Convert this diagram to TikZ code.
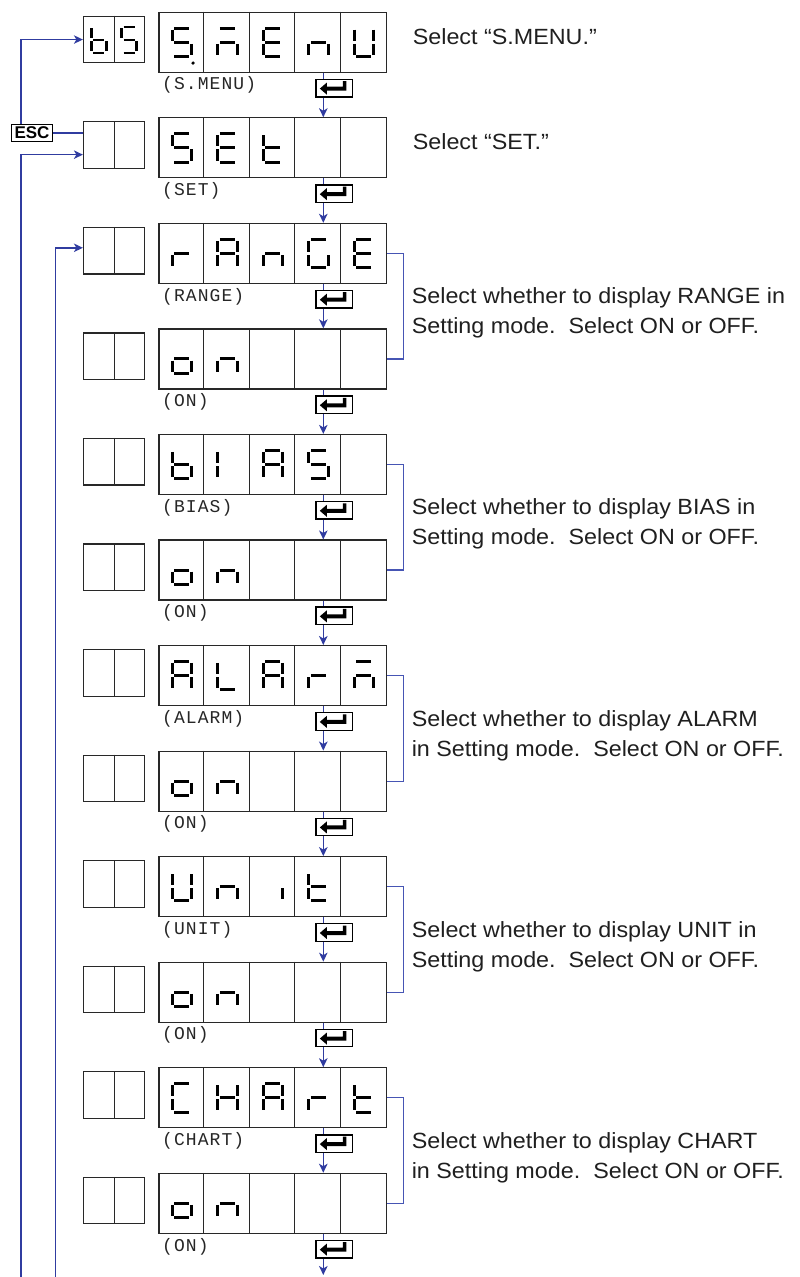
\documentclass[tikz,border=0pt]{standalone}
\usepackage{fontspec}
\setmainfont{Liberation Sans}
\newfontfamily\descfont[FakeStretch=1.06]{Liberation Sans}
\newfontfamily\lblfont[LetterSpace=6]{Liberation Mono}
\usetikzlibrary{arrows.meta,calc}
\definecolor{flowblue}{RGB}{48,60,160}
\definecolor{brkblue}{RGB}{70,85,180}
\definecolor{boxgray}{RGB}{40,40,40}
\tikzset{
 bigbox/.style={draw=boxgray,line width=1.2pt,minimum width=227.5pt,minimum height=60pt,inner sep=0pt},
 smallbox/.style={draw=boxgray,line width=1.2pt,minimum width=61pt,minimum height=46.5pt,inner sep=0pt},
 divider/.style={draw=boxgray,line width=1pt},
 enterkey/.style={draw=black,line width=1.3pt,fill=white,minimum width=36.7pt,minimum height=17.5pt,inner sep=0pt},
 flowline/.style={draw=flowblue,line width=1.5pt},
 flowarrow/.style={flowline,-{Stealth[length=9pt,width=8.5pt,inset=2.5pt]}},
 brk/.style={draw=brkblue,line width=1.2pt},
 lbl/.style={font=\lblfont\fontsize{18}{18}\selectfont,text=black!85,inner sep=0pt,anchor=west},
 desc/.style={font=\descfont\fontsize{22}{30}\selectfont,text=black!88,inner sep=0pt,align=left},
 esckey/.style={draw=black,line width=1.5pt,fill=white,minimum width=40.6pt,minimum height=17.4pt,inner sep=0pt,font=\bfseries\fontsize{17}{17}\selectfont},
}
\newcommand\qsega{\draw[line width=\ql pt] (\qx-\qw/2+\qg,\qy-\qh/2) -- (\qx+\qw/2-\qg,\qy-\qh/2);}
\newcommand\qsegb{\draw[line width=\ql pt] (\qx+\qw/2,\qy-\qh/2+\qv) -- (\qx+\qw/2,\qy-\qv);}
\newcommand\qsegc{\draw[line width=\ql pt] (\qx+\qw/2,\qy+\qv) -- (\qx+\qw/2,\qy+\qh/2-\qv);}
\newcommand\qsegd{\draw[line width=\ql pt] (\qx-\qw/2+\qg,\qy+\qh/2) -- (\qx+\qw/2-\qg,\qy+\qh/2);}
\newcommand\qsege{\draw[line width=\ql pt] (\qx-\qw/2,\qy+\qv) -- (\qx-\qw/2,\qy+\qh/2-\qv);}
\newcommand\qsegf{\draw[line width=\ql pt] (\qx-\qw/2,\qy-\qh/2+\qv) -- (\qx-\qw/2,\qy-\qv);}
\newcommand\qsegg{\draw[line width=\ql pt] (\qx-\qw/2+\qg,\qy) -- (\qx+\qw/2-\qg,\qy);}
\newcommand\qsegp{\fill (\qx+\qw/2+1.5,\qy+\qh/2+6.5) circle (1.8pt);}
\newcommand\drawdigit[6]{%
 \pgfmathsetmacro\qx{#1}\pgfmathsetmacro\qy{#2}\pgfmathsetmacro\qw{#3}%
 \pgfmathsetmacro\qh{#4}\pgfmathsetmacro\ql{#5}%
 \pgfmathsetmacro\qg{0.12*\qw}\pgfmathsetmacro\qv{1.6}%
 \foreach \s in {#6}{\csname qseg\s\endcsname}}
\newcommand\bd[2]{\drawdigit{159+45.5*(#1-0.5)}{\qT+30}{19.5}{28.5}{3}{#2}}
\newcommand\sd[2]{\drawdigit{83.5+30.5*(#1-0.5)}{\qT+27.5}{15}{26}{2.6}{#2}}
\newcommand\drow[2]{%
 \pgfmathsetmacro\qT{12.3+105.55*#1}%
 \node[bigbox] (r#1) at (272.75,\qT+30) {};
 \node[smallbox] (s#1) at (114,\qT+27.25) {};
 \foreach \k in {1,2,3,4}{\draw[divider] ($(r#1.north west)+(45.5*\k,0)$) -- ($(r#1.south west)+(45.5*\k,0)$);}
 \draw[divider] (s#1.north) -- (s#1.south);
 \node[lbl] (l#1) at (162,\qT+73) {#2};
 \node[enterkey] (k#1) at (334.3,\qT+75.8) {};
 \fill[shift={(k#1.center)}] (-14.5,0.5) -- (-7.5,-5.5) -- (-7.5,-1.5) -- (8.5,-1.5) -- (8.5,-7) -- (12,-7) -- (12,2.5) -- (-7.5,2.5) -- (-7.5,6.5) -- cycle;
}
\newcommand\onrow[1]{\drow{#1}{(ON)}\bd{1}{g,c,d,e}\bd{2}{g,e,c}}
\begin{document}
\begin{tikzpicture}[x=1pt,y=-1pt]
\useasboundingbox (0,0) rectangle (800,1277);
% rows
\drow{0}{(S.MENU)}
\sd{1}{f,e,g,c,d}\sd{2}{a,f,g,c,d}
\bd{1}{a,f,g,c,d,p}\bd{2}{a,g,e,c}\bd{3}{a,f,g,e,d}\bd{4}{g,e,c}\bd{5}{f,b,e,c,d}
\drow{1}{(SET)}
\bd{1}{a,f,g,c,d}\bd{2}{a,f,g,e,d}\bd{3}{f,e,g,d}
\drow{2}{(RANGE)}
\bd{1}{e,g}\bd{2}{a,b,c,e,f,g}\bd{3}{g,e,c}\bd{4}{a,f,e,d,c}\bd{5}{a,f,g,e,d}
\onrow{3}
\drow{4}{(BIAS)}
\bd{1}{f,e,g,c,d}\bd{2}{f,e}\bd{3}{a,b,c,e,f,g}\bd{4}{a,f,g,c,d}
\onrow{5}
\drow{6}{(ALARM)}
\bd{1}{a,b,c,e,f,g}\bd{2}{f,e,d}\bd{3}{a,b,c,e,f,g}\bd{4}{e,g}\bd{5}{a,g,e,c}
\onrow{7}
\drow{8}{(UNIT)}
\bd{1}{f,b,e,c,d}\bd{2}{g,e,c}\bd{3}{c}\bd{4}{f,e,g,d}
\onrow{9}
\drow{10}{(CHART)}
\bd{1}{a,f,e,d}\bd{2}{f,b,g,e,c}\bd{3}{a,b,c,e,f,g}\bd{4}{e,g}\bd{5}{f,e,g,d}
\onrow{11}
% flow arrows
\coordinate (ax) at (323.3,0);
\coordinate (endpt) at (323.3,1275);
\foreach \i in {0,...,10}{
 \pgfmathtruncatemacro\j{\i+1}
 \draw[flowline] (r\i.south -| ax) -- (k\i.north -| ax);
 \draw[flowarrow] (k\i.south -| ax) -- (r\j.north -| ax);
}
\draw[flowline] (r11.south -| ax) -- (k11.north -| ax);
\draw[flowarrow] (k11.south -| ax) -- (endpt);
% brackets
\foreach \i in {2,4,6,8,10}{
 \pgfmathtruncatemacro\j{\i+1}
 \draw[brk] (r\i.east) -- ++(16.2,0) |- (r\j.east);
}
% descriptions
\node[desc,anchor=base west] (d0) at ($(r0.east)+(25.5,2)$) {Select “S.MENU.”};
\node[desc,anchor=base west] (d1) at ($(r1.east)+(25.5,2)$) {Select “SET.”};
\node[desc,anchor=west] (d2) at ($($(r2.east)!0.5!(r3.east)$)+(24.5,7)$) {Select whether to display RANGE in\\Setting mode.\ \ Select ON or OFF.};
\node[desc,anchor=west] (d4) at ($($(r4.east)!0.5!(r5.east)$)+(24.5,7)$) {Select whether to display BIAS in\\Setting mode.\ \ Select ON or OFF.};
\node[desc,anchor=west] (d6) at ($($(r6.east)!0.5!(r7.east)$)+(24.5,7)$) {Select whether to display ALARM\\in Setting mode.\ \ Select ON or OFF.};
\node[desc,anchor=west] (d8) at ($($(r8.east)!0.5!(r9.east)$)+(24.5,7)$) {Select whether to display UNIT in\\Setting mode.\ \ Select ON or OFF.};
\node[desc,anchor=west] (d10) at ($($(r10.east)!0.5!(r11.east)$)+(24.5,7)$) {Select whether to display CHART\\in Setting mode.\ \ Select ON or OFF.};
% ESC and return lines
\node[esckey] (esc) at (32,133) {ESC};
\coordinate (lx1) at (21,1277);
\coordinate (lx2) at (55.7,1277);
\draw[flowarrow] (esc.north -| lx1) |- (s0.west);
\draw[flowline] (esc.east) -- (esc.east -| s1.west);
\draw[flowarrow] (lx1) |- ($(s1.south west)!0.30!(s1.north west)$);
\draw[flowarrow] (lx2) |- ($(s2.south west)!0.56!(s2.north west)$);
\end{tikzpicture}
\end{document}
